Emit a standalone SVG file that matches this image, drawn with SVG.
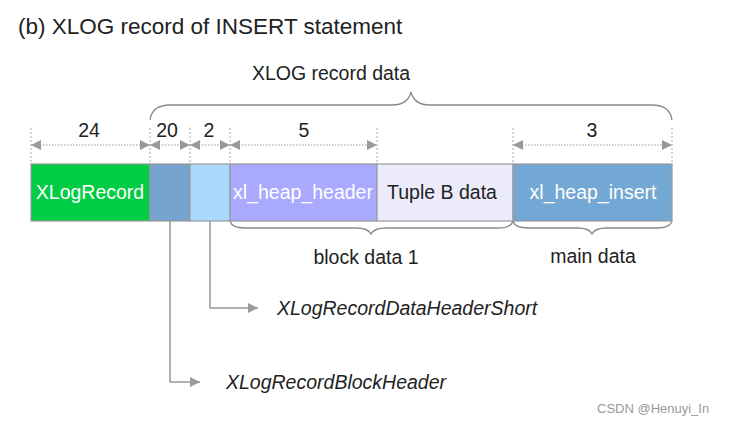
<svg xmlns="http://www.w3.org/2000/svg" width="732" height="425" viewBox="0 0 732 425">
<style>
text{font-family:"Liberation Sans","DejaVu Sans",sans-serif;}
.t{fill:#222;font-size:19.5px;}
.w{fill:#fff;font-size:19.5px;}
.i{fill:#222;font-size:19.5px;font-style:italic;}
.box{stroke:#9a9a9a;stroke-width:1.2;}
.guide{stroke:#aaa;stroke-width:1;stroke-dasharray:2 2;fill:none;}
.dim{stroke:#999;stroke-width:1.2;stroke-dasharray:1.5 1.5;fill:none;marker-start:url(#ah);marker-end:url(#ah);}
.brace{stroke:#8a8a8a;stroke-width:1.3;fill:none;}
.conn{stroke:#999;stroke-width:1.5;fill:none;marker-end:url(#ah);}
</style>
<defs>
<marker id="ah" viewBox="0 0 10 10" refX="10" refY="5" markerWidth="14" markerHeight="10" markerUnits="userSpaceOnUse" orient="auto-start-reverse">
<path d="M0,0 L10,5 L0,10 z" fill="#999"/>
</marker>
</defs>
<rect width="732" height="425" fill="#fff"/>
<text x="18" y="34" style="font-size:22.5px;fill:#222">(b) XLOG record of INSERT statement</text>
<text x="331" y="80" class="t" text-anchor="middle">XLOG record data</text>

<g id="braces">
<path class="brace" d="M150,120 Q152,105 170,105 L392,105 Q408,105 411,92 Q414,105 430,105 L652,105 Q670,105 672,120"/>
<path class="brace" d="M230,221 Q232,228 245,228 L356,228 Q368,228 371,234 Q374,228 386,228 L498,228 Q511,228 513,221"/>
<path class="brace" d="M513,221 Q515,228 528,228 L578,228 Q589,228 592,234 Q595,228 606,228 L657,228 Q670,228 672,221"/>
</g>

<g id="dimensions">
<path class="guide" d="M31,128V163 M150,128V163 M190,128V163 M230,128V163 M377,128V163 M513,128V163 M672,128V163"/>
<text x="89" y="137" class="t" text-anchor="middle">24</text>
<text x="167" y="137" class="t" text-anchor="middle">20</text>
<text x="209" y="137" class="t" text-anchor="middle">2</text>
<text x="304" y="137" class="t" text-anchor="middle">5</text>
<text x="592" y="137" class="t" text-anchor="middle">3</text>
<line class="dim" x1="31" y1="145" x2="150" y2="145"/>
<line class="dim" x1="150" y1="145" x2="190" y2="145"/>
<line class="dim" x1="190" y1="145" x2="230" y2="145"/>
<line class="dim" x1="230" y1="145" x2="377" y2="145"/>
<line class="dim" x1="513" y1="145" x2="672" y2="145"/>
</g>

<g id="xlogrecord"><rect class="box" x="31" y="164" width="119" height="57" fill="#00cc44"/><text x="90" y="199" class="w" text-anchor="middle">XLogRecord</text></g>
<g id="blockheader"><rect class="box" x="150" y="164" width="40" height="57" fill="#74a4cf"/></g>
<g id="dataheadershort"><rect class="box" x="190" y="164" width="40" height="57" fill="#a9d9ff"/></g>
<g id="xl_heap_header"><rect class="box" x="230" y="164" width="147" height="57" fill="#a9a9ff"/><text x="303" y="199" class="w" text-anchor="middle">xl_heap_header</text></g>
<g id="tuple"><rect class="box" x="377" y="164" width="136" height="57" fill="#ebebfb"/><text x="442" y="199" class="t" text-anchor="middle">Tuple B data</text></g>
<g id="xl_heap_insert"><rect class="box" x="513" y="164" width="159" height="57" fill="#74a8d4"/><text x="593" y="199" class="w" text-anchor="middle">xl_heap_insert</text></g>

<text x="366" y="264" class="t" text-anchor="middle">block data 1</text>
<text x="593" y="263" class="t" text-anchor="middle">main data</text>

<g id="connectors">
<path class="conn" d="M210,221 V308 H258"/>
<path class="conn" d="M170,221 V382 H200"/>
</g>
<g id="label-short"><text x="277" y="315" class="i">XLogRecordDataHeaderShort</text></g>
<g id="label-block"><text x="226" y="389" class="i">XLogRecordBlockHeader</text></g>

<text x="597" y="413" style="font-size:13px;fill:#999">CSDN @Henuyi_In</text>
</svg>
